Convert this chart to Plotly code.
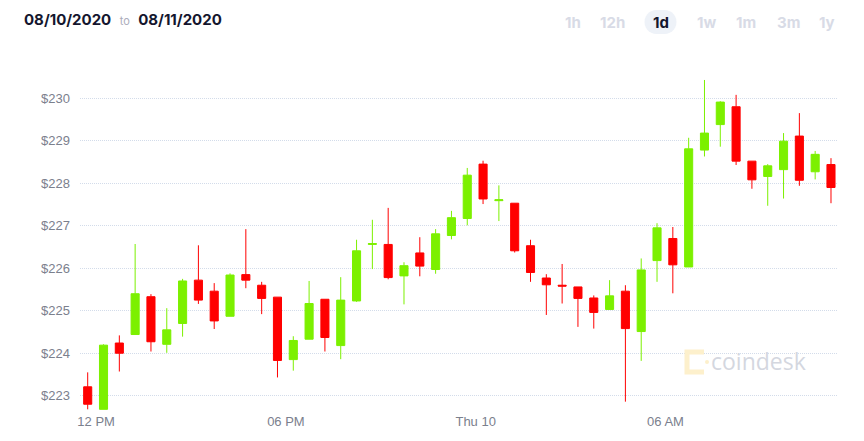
import math
import pandas as pd
import plotly.graph_objects as go

# ---- data (30-minute candles, 08/10/2020 -> 08/11/2020) ----
opens = [223.21, 222.68, 224.24, 224.44, 225.33, 224.21, 224.70, 225.72, 225.46, 224.87,
         225.85, 225.60, 225.32, 223.85, 224.33, 225.27, 224.18, 225.23, 226.56, 226.56,
         225.82, 226.36, 225.97, 226.77, 227.17, 228.45, 227.59, 227.53, 226.53, 225.77,
         225.60, 225.56, 225.30, 225.03, 225.46, 224.51, 226.18, 226.70, 226.03, 228.78,
         229.38, 229.80, 228.52, 228.16, 228.32, 229.11, 228.27, 228.44]
highs = [223.55, 224.21, 224.42, 226.57, 225.39, 225.06, 225.75, 226.54, 225.65, 225.88,
         226.92, 225.68, 225.32, 224.40, 225.70, 225.27, 225.79, 226.67, 227.14, 227.42,
         226.14, 226.73, 226.92, 227.35, 228.36, 228.53, 227.95, 227.53, 226.67, 225.86,
         226.10, 225.56, 225.36, 225.72, 225.60, 226.23, 227.06, 226.97, 229.07, 230.43,
         229.93, 230.08, 228.52, 228.45, 229.18, 229.65, 228.76, 228.59]
lows = [222.68, 222.68, 223.57, 224.44, 224.04, 224.01, 224.39, 225.16, 224.57, 224.87,
        225.53, 224.92, 223.43, 223.59, 224.33, 224.04, 223.86, 225.21, 225.98, 225.74,
        225.15, 225.81, 225.87, 226.68, 227.01, 227.51, 227.11, 226.37, 225.68, 224.90,
        225.17, 224.62, 224.58, 225.03, 222.86, 223.82, 225.68, 225.41, 226.03, 228.63,
        228.86, 228.43, 227.87, 227.47, 227.64, 227.94, 228.09, 227.53]
closes = [222.80, 224.19, 224.00, 225.40, 224.27, 224.55, 225.70, 225.25, 224.76, 225.84,
          225.72, 225.29, 223.83, 224.30, 225.17, 224.37, 225.25, 226.41, 226.58, 225.78,
          226.06, 226.05, 226.81, 227.19, 228.19, 227.63, 227.61, 226.41, 225.90, 225.61,
          225.58, 225.29, 224.96, 225.35, 224.58, 225.96, 226.95, 226.08, 228.81, 229.18,
          229.91, 228.52, 228.08, 228.41, 228.99, 228.07, 228.68, 227.90]
times = pd.date_range("2020-08-10 11:44", periods=len(opens), freq="30min")

x_tickvals = ["2020-08-10 12:00", "2020-08-10 18:00", "2020-08-11 00:00", "2020-08-11 06:00"]
x_ticktext = ["12 PM", "06 PM", "Thu 10", "06 AM"]
y_tickvals = [223, 224, 225, 226, 227, 228, 229, 230]
y_ticktext = ["$223", "$224", "$225", "$226", "$227", "$228", "$229", "$230"]

date_from = "08/10/2020"
date_to = "08/11/2020"
ranges = ["1h", "12h", "1d", "1w", "1m", "3m", "1y"]
active_range = "1d"

# ---- layout geometry (pixels) ----
W, H = 864, 441
L, R, T, B = 80, 26, 60, 29
PW, PH = W - L - R, H - T - B


def px(x):
    return (x - L) / PW


def py(y):
    return (H - B - y) / PH


def pill_path(half_straight, r, n=14):
    pts = []
    for k in range(n + 1):
        a = -math.pi / 2 + math.pi * k / n
        pts.append((half_straight + r * math.cos(a), r * math.sin(a)))
    for k in range(n + 1):
        a = math.pi / 2 + math.pi * k / n
        pts.append((-half_straight + r * math.cos(a), r * math.sin(a)))
    return "M " + " L ".join(f"{x:.2f},{y:.2f}" for x, y in pts) + " Z"


GREEN = "#7CF000"
RED = "#FF0000"

fig = go.Figure()
fig.add_trace(go.Candlestick(
    x=times, open=opens, high=highs, low=lows, close=closes,
    increasing=dict(fillcolor=GREEN, line=dict(color=GREEN, width=1)),
    decreasing=dict(fillcolor=RED, line=dict(color=RED, width=1)),
    whiskerwidth=0,
    hoverinfo="skip",
))

annotations = []
annotations.append(dict(
    xref="paper", yref="paper", x=px(22), y=py(19), xanchor="left", yanchor="middle",
    text=(f"<b>{date_from}</b>  <span style='font-size:11px;color:#abadbb'>to</span>  "
          f"<b>{date_to}</b>"),
    showarrow=False, font=dict(family="Inter", size=15, color="#14162e"),
))
centers = [572.5, 612, 660.5, 706.5, 746, 788, 827]
shapes = []
for lab, cx in zip(ranges, centers):
    if lab == active_range:
        shapes.append(dict(
            type="path", xref="paper", yref="paper", xsizemode="pixel", ysizemode="pixel",
            xanchor=px(cx), yanchor=py(22),
            path=pill_path(4, 12),
            fillcolor="#eef2f8", line=dict(width=0), layer="below",
        ))
    annotations.append(dict(
        xref="paper", yref="paper", x=px(cx), y=py(22), xanchor="center", yanchor="middle",
        text=f"<b>{lab}</b>", showarrow=False,
        font=dict(family="Inter", size=15, color="#14162e" if lab == active_range else "#d8dbe6"),
    ))

# watermark
annotations.append(dict(
    xref="paper", yref="paper", x=px(709), y=py(361), xanchor="left", yanchor="middle",
    text="coindesk", showarrow=False,
    font=dict(family="Open Sans", size=23, color="#d4d7df"),
))
shapes.append(dict(
    type="path", xref="paper", yref="paper", xsizemode="pixel", ysizemode="pixel",
    xanchor=px(695), yanchor=py(362),
    path="M 9,10 L -8,10 L -8,-10 L 9,-10",
    line=dict(color="#fdf0cc", width=5), layer="above",
))
shapes.append(dict(
    type="circle", xref="paper", yref="paper", xsizemode="pixel", ysizemode="pixel",
    xanchor=px(707), yanchor=py(362), x0=-2, x1=2, y0=-2, y1=2,
    fillcolor="#fdf0cc", line=dict(width=0),
))

fig.update_layout(
    width=W, height=H,
    margin=dict(l=L, r=R, t=T, b=B, pad=0),
    paper_bgcolor="white", plot_bgcolor="white",
    showlegend=False,
    boxgap=0.27,
    annotations=annotations,
    shapes=shapes,
    font=dict(family="Liberation Sans", size=13, color="#7b808d"),
    xaxis=dict(
        type="date",
        range=["2020-08-10 11:29:24", "2020-08-11 11:27:18"],
        rangeslider=dict(visible=False),
        tickvals=x_tickvals, ticktext=x_ticktext,
        showgrid=False, zeroline=False, showline=False, ticks="",
        tickfont=dict(family="Liberation Sans", size=13, color="#7b808d"),
    ),
    yaxis=dict(
        range=[222.617, 230.9],
        tickvals=y_tickvals, ticktext=y_ticktext,
        showgrid=True, gridcolor="#d3dcea", griddash="1px,1px", gridwidth=1,
        zeroline=False, showline=False, ticks="", ticklabelstandoff=9,
        tickfont=dict(family="Liberation Sans", size=13, color="#7b808d"),
    ),
)

fig.write_html("out.html")
